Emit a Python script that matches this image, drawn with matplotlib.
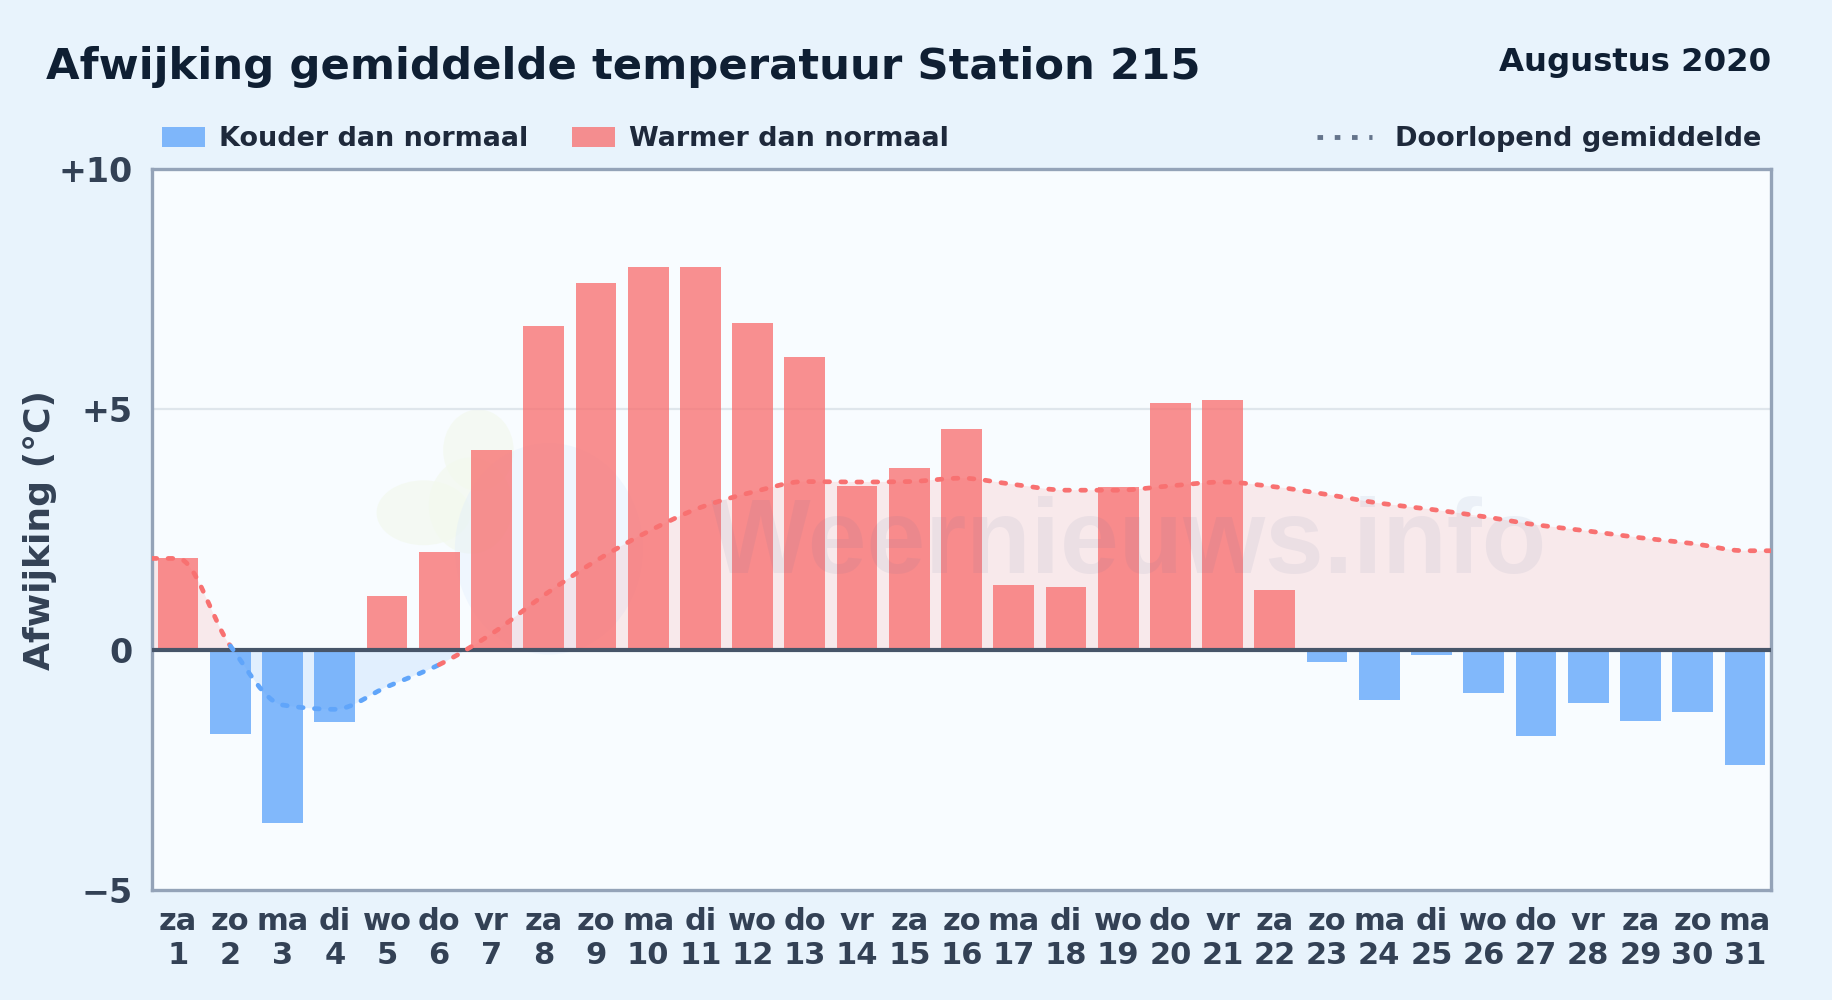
import numpy as np
import matplotlib
matplotlib.use("Agg")
import matplotlib.pyplot as plt
from matplotlib.path import Path
from matplotlib.patches import PathPatch, Rectangle, Ellipse
from matplotlib.lines import Line2D

weekdays = ["za", "zo", "ma", "di", "wo", "do", "vr", "za", "zo", "ma", "di", "wo", "do", "vr", "za", "zo",
            "ma", "di", "wo", "do", "vr", "za", "zo", "ma", "di", "wo", "do", "vr", "za", "zo", "ma"]
days = list(range(1, 32))
afwijking = [1.9, -1.75, -3.6, -1.5, 1.12, 2.03, 4.15, 6.74, 7.64, 7.97, 7.97, 6.8, 6.1, 3.4, 3.78, 4.6,
             1.35, 1.3, 3.38, 5.13, 5.2, 1.25, -0.25, -1.05, -0.12, -0.9, -1.8, -1.1, -1.48, -1.3, -2.4]
gemiddelde = [1.9, 0.08, -1.15, -1.24, -0.77, -0.31, 0.33, 1.13, 1.85, 2.46, 2.96, 3.28, 3.5, 3.49, 3.5, 3.57,
              3.44, 3.32, 3.32, 3.41, 3.49, 3.39, 3.23, 3.05, 2.92, 2.77, 2.6, 2.47, 2.33, 2.21, 2.06]
yticks = [-5, 0, 5, 10]
yticklabels = ["\u22125", "0", "+5", "+10"]

BG = "#e8f3fc"
PLOT_BG = "#f8fcff"
BLUE = "#60a5fa"
RED = "#f87171"
DARK = "#334155"

plt.rcParams["font.family"] = "DejaVu Sans"
plt.rcParams["font.weight"] = "bold"

W, H = 1832, 1000
fig = plt.figure(figsize=(W / 100, H / 100), dpi=100, facecolor=BG)
ax = fig.add_axes([152 / W, 1 - 890 / H, (1771 - 152) / W, (890 - 169.2) / H], facecolor=PLOT_BG)

x = np.arange(len(days))
ax.set_xlim(-0.5, 30.5)
ax.set_ylim(-5, 10)


def curve_verts(xs, ys):
    # monotone tangents -> bezier control points
    xs = np.asarray(xs, float)
    ys = np.asarray(ys, float)
    h = np.diff(xs)
    d = np.diff(ys) / h
    m = np.zeros(len(xs))
    m[0], m[-1] = d[0], d[-1]
    for i in range(1, len(xs) - 1):
        if d[i - 1] * d[i] > 0:
            m[i] = 2 * d[i - 1] * d[i] / (d[i - 1] + d[i])
    verts = [(xs[0], ys[0])]
    for i in range(len(h)):
        verts.append((xs[i] + h[i] / 3, ys[i] + m[i] * h[i] / 3))
        verts.append((xs[i + 1] - h[i] / 3, ys[i + 1] - m[i + 1] * h[i] / 3))
        verts.append((xs[i + 1], ys[i + 1]))
    return verts


# line runs on to both edges of the plot
line_x = [-0.5] + list(x) + [30.5]
line_y = [gemiddelde[0]] + gemiddelde + [gemiddelde[-1]]
verts = curve_verts(line_x, line_y)

# watermark logo, very faint
for cx, cy, w, h in [(4.7, 2.85, 1.8, 1.35), (5.75, 4.15, 1.35, 1.7), (5.6, 3.0, 1.6, 2.0)]:
    ax.add_patch(Ellipse((cx, cy), w, h, color="#f3f9ee", alpha=0.7, lw=0, zorder=1))
ax.add_patch(Ellipse((7.1, 2.1), 3.6, 4.4, color="#dbeafe", alpha=0.3, lw=0, zorder=1))

# area to the zero line
fill_codes = [Path.MOVETO] + [Path.CURVE4] * (len(verts) - 1) + [Path.LINETO, Path.LINETO, Path.CLOSEPOLY]
fill_verts = verts + [(30.5, 0), (-0.5, 0), (-0.5, 0)]
fill_path = Path(fill_verts, fill_codes)
red_fill = PathPatch(fill_path, facecolor="#ff7070", alpha=0.135, lw=0, zorder=2)
blue_fill = PathPatch(fill_path, facecolor=BLUE, alpha=0.15, lw=0, zorder=2)
ax.add_patch(red_fill)
ax.add_patch(blue_fill)
red_fill.set_clip_path(Rectangle((-0.5, 0), 31, 10, transform=ax.transData))
blue_fill.set_clip_path(Rectangle((-0.5, -5), 31, 5, transform=ax.transData))

ax.axhline(5, color="#dfe6ec", lw=1.6, zorder=1.5)

colors = [RED if v >= 0 else BLUE for v in afwijking]
ax.bar(x, afwijking, width=0.78, color=colors, alpha=0.78, lw=0, zorder=3)

ax.text(18.2, 1.6, "Weernieuws.info", fontsize=76, family="Liberation Sans", fontweight="bold", color="#5b6f9b",
        alpha=0.08, ha="center", va="baseline", zorder=4)

ax.axhline(0, color="#475569", lw=3, zorder=5)

# line: colour follows the sign of each segment's end point
for start, stop, col in [(0, 2, RED), (2, 6, BLUE), (6, len(line_x) - 1, RED)]:
    part = verts[start * 3:stop * 3 + 1]
    codes = [Path.MOVETO] + [Path.CURVE4] * (len(part) - 1)
    ax.add_patch(PathPatch(Path(part, codes), fill=False, edgecolor=col, lw=3.4, linestyle=(0, (1.0, 2.4)),
                           capstyle="round", zorder=6))

for s in ax.spines.values():
    s.set_color("#94a3b8")
    s.set_linewidth(2.4)

ax.set_yticks(yticks)
ax.set_yticklabels(yticklabels, fontsize=24, color=DARK)
ax.set_xticks(x)
ax.set_xticklabels([f"{w}\n{d}" for w, d in zip(weekdays, days)], fontsize=22, color=DARK, linespacing=1.23)
ax.tick_params(axis="x", length=0, pad=12)
ax.tick_params(axis="y", length=0, pad=14)
ax.set_ylabel("Afwijking (\u00b0C)", fontsize=26, color=DARK, fontweight="bold")
ax.yaxis.set_label_coords(-0.0588, 0.5)

fig.text(46 / W, 1 - 67.5 / H, "Afwijking gemiddelde temperatuur Station 215", fontsize=31.25, color="#0f1f33",
         va="center", ha="left")
fig.text(1771 / W, 1 - 62 / H, "Augustus 2020", fontsize=23.3, color="#0f1f33", va="center", ha="right")

handles = [Rectangle((0, 0), 1, 1, facecolor=BLUE, alpha=0.78, lw=0), Rectangle((0, 0), 1, 1, facecolor=RED, alpha=0.78, lw=0)]
leg = fig.legend(handles, ["Kouder dan normaal", "Warmer dan normaal"], loc="center left",
                 bbox_to_anchor=(148.5 / W, 1 - 139.5 / H), frameon=False, ncol=2, fontsize=19.45, labelcolor="#1e293b",
                 handlelength=1.6, handleheight=0.8, handletextpad=0.52, columnspacing=1.6, borderpad=0)
leg2 = fig.legend([Line2D([0], [0], color="#64748b", lw=3.5, linestyle=(0, (1.15, 2.4)))], ["Doorlopend gemiddelde"],
                  loc="center right", bbox_to_anchor=(1775 / W, 1 - 139.5 / H), frameon=False, fontsize=19.55,
                  labelcolor="#1e293b", handlelength=2.04, handletextpad=0.85, borderpad=0)

fig.savefig("out.png", dpi=100, facecolor=BG)
